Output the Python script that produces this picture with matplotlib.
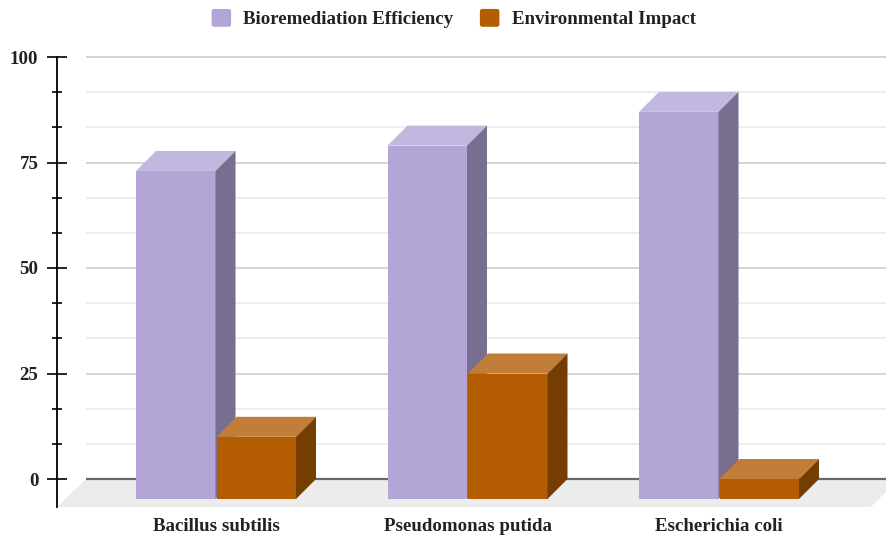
import matplotlib
matplotlib.use('Agg')
import matplotlib.pyplot as plt
from matplotlib.patches import Polygon, Patch, FancyBboxPatch
from matplotlib.legend_handler import HandlerPatch

species = ['Bacillus subtilis', 'Pseudomonas putida', 'Escherichia coli']
efficiency = [73, 79, 87]
impact = [10, 25, 0]
major_ticks = [0, 25, 50, 75, 100]
minor_ticks = [8.33, 16.67, 33.33, 41.67, 58.33, 66.67, 83.33, 91.67]

PURPLE = ('#b3a6d7', '#c2b8df', '#786e90')
ORANGE = ('#b45c02', '#c27d38', '#753d00')

# pixel -> data factors for the full-figure axes
px_per_cat = 251.5
px_per_val = 4.22
dx = 20 / px_per_cat
dy = 20 / px_per_val
bar_w = 79.5 / px_per_cat
gap = 0.5 / px_per_cat
base = -dy


def px_x(p):
    return (p - 216) / px_per_cat


def px_y(p):
    return (479 - p) / px_per_val


def bar3d(ax, x0, val, colors):
    front, top, side = colors
    ax.bar(x0, val - base, bottom=base, width=bar_w, align='edge', color=front, zorder=3)
    x1 = x0 + bar_w
    ax.add_patch(Polygon([(x0, val), (x1, val), (x1 + dx, val + dy), (x0 + dx, val + dy)],
                         closed=True, fc=top, ec='none', zorder=3))
    ax.add_patch(Polygon([(x1, val), (x1 + dx, val + dy), (x1 + dx, base + dy), (x1, base)],
                         closed=True, fc=side, ec='none', zorder=3))


def round_swatch(legend, orig_handle, xdescent, ydescent, width, height, fontsize):
    return FancyBboxPatch((-xdescent, -ydescent), width, height,
                          boxstyle='round,pad=0,rounding_size=1.2',
                          fc=orig_handle.get_facecolor(), ec='none')


fig = plt.figure(figsize=(8.86, 5.35), dpi=100)
ax = fig.add_axes([0, 0, 1, 1])
ax.set_xlim(px_x(0), px_x(886))
ax.set_ylim(px_y(535), px_y(0))

serif = 'Liberation Serif'
left = px_x(86)
right = px_x(886)

# floor
ax.add_patch(Polygon([(px_x(57), px_y(507)), (px_x(86), 0), (right, 0),
                      (right, px_y(492)), (px_x(871), px_y(507))],
                     closed=True, fc='#ececec', ec='none', zorder=1))

# grid
ax.hlines(minor_ticks, left, right, color='#ececec', lw=1.3, zorder=1)
ax.hlines(major_ticks[1:], left, right, color='#d2d2d2', lw=1.3, zorder=1)
ax.hlines(0, left, right, color='#686868', lw=1.6, zorder=2)

for i in range(len(species)):
    bar3d(ax, i - bar_w - gap, efficiency[i], PURPLE)
    bar3d(ax, i + gap, impact[i], ORANGE)

for s in ['top', 'right']:
    ax.spines[s].set_visible(False)
ax.spines['left'].set_position(('data', px_x(57)))
ax.spines['left'].set_bounds(px_y(507), 100)
ax.spines['left'].set_linewidth(1.3)
ax.spines['bottom'].set_position(('data', px_y(507)))
ax.spines['bottom'].set_visible(False)

ax.set_yticks(major_ticks)
ax.set_yticks(minor_ticks, minor=True)
ax.tick_params(axis='y', which='major', direction='inout', length=13.7, width=1.2, pad=6.5)
ax.tick_params(axis='y', which='minor', direction='inout', length=7.2, width=1.2)
for t in ax.get_yticklabels():
    t.set_fontfamily(serif)
    t.set_fontweight('bold')
    t.set_fontsize(13.6)
    t.set_color('#222222')

ax.set_xticks(range(len(species)))
ax.set_xticklabels(species, fontfamily=serif, fontweight='bold', fontsize=13.6, color='#222222')
ax.tick_params(axis='x', length=0, pad=8)

handles = [Patch(color=PURPLE[0], label='Bioremediation Efficiency'),
           Patch(color=ORANGE[0], label='Environmental Impact')]
ax.legend(handles=handles, loc='center', bbox_to_anchor=(454 / 886, 1 - 19 / 535), ncol=2,
          frameon=False, handlelength=0.96, handleheight=0.96, handletextpad=0.69,
          columnspacing=1.43, prop={'family': serif, 'weight': 'bold', 'size': 13.6},
          labelcolor='#222222', handler_map={Patch: HandlerPatch(patch_func=round_swatch)})

fig.savefig('out.png', dpi=100)
